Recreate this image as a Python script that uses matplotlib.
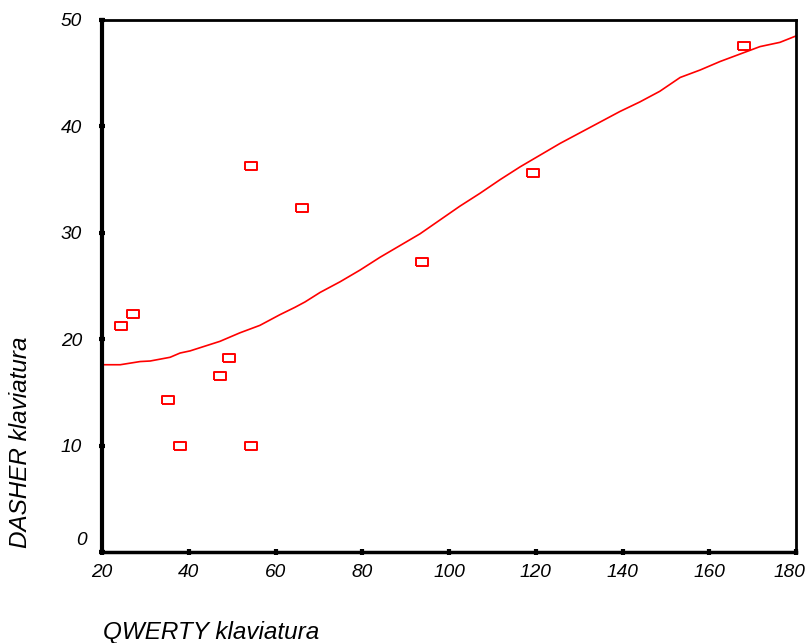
import matplotlib
matplotlib.use("Agg")
import matplotlib.pyplot as plt
from matplotlib import transforms

plt.rcParams['font.family'] = ['Liberation Sans', 'DejaVu Sans']

# data
qwerty = [24.4, 27.1, 35.2, 38.0, 47.2, 49.3, 54.4, 54.4, 66.1, 93.8, 119.4, 168.0]
dasher = [21.2, 22.4, 14.3, 10.0, 16.5, 18.2, 10.0, 36.3, 32.3, 27.3, 35.6, 47.6]

fit_x = [20, 24.2, 28.8, 31.1, 35.7, 38, 40.3, 42.6, 44.9, 47.2, 51.8, 56.4, 61.0, 64.5,
         66.8, 70.3, 74.9, 79.5, 84.1, 88.7, 93.3, 97.9, 102.5, 107.1, 111.8, 116.4,
         121.0, 125.6, 130.2, 134.8, 139.4, 144.0, 148.6, 153.3, 157.9, 162.5, 167.1,
         171.7, 176.3, 180]
fit_y = [17.6, 17.6, 17.9, 17.95, 18.3, 18.7, 18.9, 19.2, 19.5, 19.8, 20.6, 21.3, 22.3,
         23.0, 23.5, 24.4, 25.4, 26.5, 27.7, 28.8, 29.9, 31.2, 32.5, 33.7, 35.0, 36.2,
         37.3, 38.4, 39.4, 40.4, 41.4, 42.3, 43.3, 44.6, 45.3, 46.1, 46.8, 47.5, 47.9, 48.5]

x_ticks = [20, 40, 60, 80, 100, 120, 140, 160, 180]
y_ticks = [0, 10, 20, 30, 40, 50]
x_label = "QWERTY klaviatura"
y_label = "DASHER klaviatura"

fig = plt.figure(figsize=(8.09, 6.43), dpi=100)
ax = fig.add_axes([102/809, 1-552/643, 694/809, 532/643])

ax.plot(fit_x, fit_y, color='#ff0000', lw=1.2, zorder=2, clip_on=False)
rect = [(-1.5, -1), (1.5, -1), (1.5, 1), (-1.5, 1), (-1.5, -1)]
ax.plot(qwerty, dasher, linestyle='none', marker=rect, markersize=9,
        markerfacecolor='white', markeredgecolor='#ff0000', markeredgewidth=1.4, zorder=3)

ax.set_xlim(20, 180)
ax.set_ylim(0, 50)
ax.set_xticks(x_ticks)
ax.set_yticks(y_ticks)
ax.tick_params(axis='both', direction='inout', length=5, width=3, color='black')
ax.tick_params(axis='y', pad=12)
ax.tick_params(axis='x', pad=6)
ax.set_xticklabels([str(v) for v in x_ticks], fontstyle='italic', fontsize=13.8)
ylabels = [str(v) for v in y_ticks]
ylabels[0] = ''
ax.set_yticklabels(ylabels, fontstyle='italic', fontsize=13.8)

# last x tick label nudged left so it stays inside the figure
last = ax.xaxis.get_major_ticks()[-1].label1
last.set_transform(last.get_transform() +
                   transforms.ScaledTranslation(-7/100, 0, fig.dpi_scale_trans))

# "0" label shifted up as in reference
ax.text(-0.022, 0.022, "0", transform=ax.transAxes, ha='right', va='center',
        fontstyle='italic', fontsize=13.8)

ax.spines['left'].set_linewidth(3)
ax.spines['bottom'].set_linewidth(2.5)
for s in ['top', 'right']:
    ax.spines[s].set_linewidth(2)

ax.set_xlabel(x_label, fontstyle='italic', fontsize=17.5, va='center', ha='center')
ax.set_ylabel(y_label, fontstyle='italic', fontsize=17.5, va='center', ha='center')
ax.xaxis.set_label_coords((211-102)/694, (552-632)/532)
ax.yaxis.set_label_coords((21-102)/694, (552-442)/532)

fig.savefig("out.png", dpi=100, facecolor='white')
